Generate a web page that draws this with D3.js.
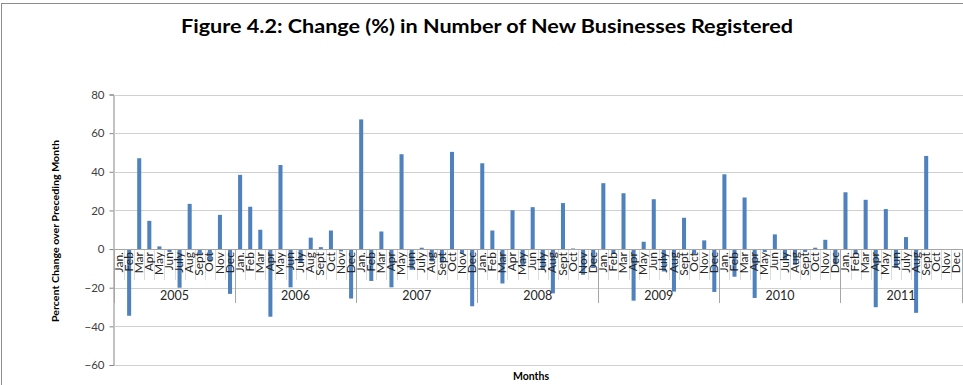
<!DOCTYPE html>
<html>
<head>
<meta charset="utf-8">
<script src="https://cdn.jsdelivr.net/npm/d3@7"></script>
<style>
  html, body { margin: 0; padding: 0; background: #fff; }
  svg { display: block; }
  text { font-family: Lato, "Open Sans", "Liberation Sans", sans-serif; }
</style>
</head>
<body>
<svg id="chart" width="963" height="385"></svg>
<script>
// Monthly change (%) in number of new businesses registered, 2005–2011
const years = ["2005", "2006", "2007", "2008", "2009", "2010", "2011"];
const monthLabels = ["Jan.", "Feb", "Mar", "Apr", "May", "Jun", "July", "Aug", "Sept", "Oct", "Nov", "Dec"];
const yTicks = [-60, -40, -20, 0, 20, 40, 60, 80];

const change2005 = [0, -34.5, 47.0, 14.6, 1.4, -1.5, -20.0, 23.4, -3.0, -6.4, 17.7, -23.2];
const change2006 = [38.4, 21.9, 10.0, -35.0, 43.5, -19.8, -7.0, 5.9, 1.0, 9.6, -1.2, -25.6];
const change2007 = [67.1, -16.5, 9.1, -19.8, 49.1, -10.7, 0.7, -6.4, -7.0, 50.3, -2.5, -29.6];
const change2008 = [44.4, 9.6, -17.8, 20.1, -9.0, 21.7, -10.7, -22.9, 23.8, 0.3, -13.3, -9.8];
const change2009 = [34.1, -2.5, 28.9, -26.7, 3.8, 25.8, -11.6, -22.0, 16.2, -2.5, 4.5, -22.2];
const change2010 = [38.7, -14.3, 26.7, -25.3, -1.5, 7.6, -5.5, -8.1, -1.5, 0.7, 4.8, -8.0];
const change2011 = [29.4, -2.8, 25.5, -30.1, 20.7, -9.8, 6.2, -33.0, 48.2, null, null, null];

const yearly = [change2005, change2006, change2007, change2008, change2009, change2010, change2011];

// flatten into one row per month
const rows = [];
yearly.forEach((vals, yi) => {
  vals.forEach((v, mi) => {
    rows.push({ key: years[yi] + "-" + mi, year: years[yi], month: monthLabels[mi], value: v });
  });
});

const svg = d3.select("#chart");

const plot = { left: 114, right: 961.5, top: 94.5, bottom: 365 };

const x = d3.scaleBand()
  .domain(rows.map(d => d.key))
  .range([plot.left, plot.right])
  .paddingInner(0.6)
  .paddingOuter(0.3);

const xStep = (plot.right - plot.left) / rows.length;
const xBand = d3.scaleBand().domain(rows.map(d => d.key)).range([plot.left, plot.right]);

const y = d3.scaleLinear().domain([-60, 80]).range([plot.bottom, plot.top]);

// chart frame
svg.append("rect")
  .attr("x", 1.5).attr("y", 3.5)
  .attr("width", 1000).attr("height", 500)
  .attr("fill", "none")
  .attr("stroke", "#8c8c8c")
  .attr("stroke-width", 1);

// title
svg.append("text")
  .attr("x", 487).attr("y", 33)
  .attr("text-anchor", "middle")
  .attr("font-size", 19.5)
  .attr("font-weight", 700)
  .attr("fill", "#000")
  .attr("textLength", 612)
  .attr("lengthAdjust", "spacingAndGlyphs")
  .text("Figure 4.2: Change (%) in Number of New Businesses Registered");

// value axis with gridlines
const yAxis = svg.append("g")
  .attr("transform", `translate(${plot.left - 0.5},0)`)
  .call(d3.axisLeft(y).tickValues(yTicks).tickSize(4).tickPadding(5));
yAxis.select(".domain").attr("stroke", "#868686");
yAxis.selectAll(".tick line").attr("stroke", "#868686");
yAxis.selectAll(".tick text").attr("font-size", 11.5).attr("fill", "#404040");

svg.append("g")
  .selectAll("line")
  .data(yTicks.filter(t => t !== 0))
  .join("line")
  .attr("x1", plot.left).attr("x2", plot.right + 2)
  .attr("y1", d => Math.round(y(d)) + 0.5)
  .attr("y2", d => Math.round(y(d)) + 0.5)
  .attr("stroke", "#d0d0d0")
  .attr("stroke-width", 1.2);

// category axis separators (months, then years)
const axisY = y(0);
const labelTop = axisY + 3;
svg.append("g")
  .selectAll("line")
  .data(rows)
  .join("line")
  .attr("x1", d => Math.round(xBand(d.key)) + 0.5)
  .attr("x2", d => Math.round(xBand(d.key)) + 0.5)
  .attr("y1", axisY)
  .attr("y2", (d, i) => (i % 12 === 0 ? axisY + 54 : axisY + 31))
  .attr("stroke", (d, i) => (i % 12 === 0 ? "#a6a6a6" : "#dcdcdc"))
  .attr("stroke-width", 1);

svg.append("line")
  .attr("x1", Math.round(plot.right) + 0.5).attr("x2", Math.round(plot.right) + 0.5)
  .attr("y1", axisY).attr("y2", axisY + 54)
  .attr("stroke", "#a6a6a6");

// bars
svg.append("g")
  .selectAll("rect")
  .data(rows.filter(d => d.value !== null))
  .join("rect")
  .attr("x", d => x(d.key))
  .attr("width", x.bandwidth())
  .attr("y", d => y(Math.max(0, d.value)))
  .attr("height", d => Math.abs(y(d.value) - y(0)))
  .attr("fill", "#4f81bd");

// horizontal category axis line at zero
svg.append("line")
  .attr("x1", plot.left).attr("x2", plot.right + 2)
  .attr("y1", Math.round(axisY) + 0.5).attr("y2", Math.round(axisY) + 0.5)
  .attr("stroke", "#a6a6a6");

// month labels, rotated
const xAxis = svg.append("g")
  .attr("transform", `translate(0,${labelTop})`)
  .call(d3.axisBottom(xBand).tickSize(0).tickFormat(k => rows.find(r => r.key === k).month));
xAxis.select(".domain").remove();
xAxis.selectAll(".tick text")
  .attr("transform", "rotate(-90)")
  .attr("x", 0).attr("y", 0)
  .attr("dy", "0.3em")
  .attr("text-anchor", "end")
  .attr("font-size", 12)
  .attr("fill", "#262626");

// year labels
svg.append("g")
  .selectAll("text")
  .data(years)
  .join("text")
  .attr("x", (d, i) => xBand(d + "-0") + xStep * 6)
  .attr("y", axisY + 51)
  .attr("text-anchor", "middle")
  .attr("font-size", 12.5)
  .attr("fill", "#262626")
  .text(d => d);

// axis titles
svg.append("text")
  .attr("transform", `translate(59,${231}) rotate(-90)`)
  .attr("text-anchor", "middle")
  .attr("font-size", 10)
  .attr("font-weight", 700)
  .attr("fill", "#000")
  .attr("textLength", 182)
  .attr("lengthAdjust", "spacingAndGlyphs")
  .text("Percent Change over Preceding Month");

svg.append("text")
  .attr("x", 531).attr("y", 380)
  .attr("text-anchor", "middle")
  .attr("font-size", 10.5)
  .attr("font-weight", 700)
  .attr("fill", "#000")
  .text("Months");
</script>
</body>
</html>
